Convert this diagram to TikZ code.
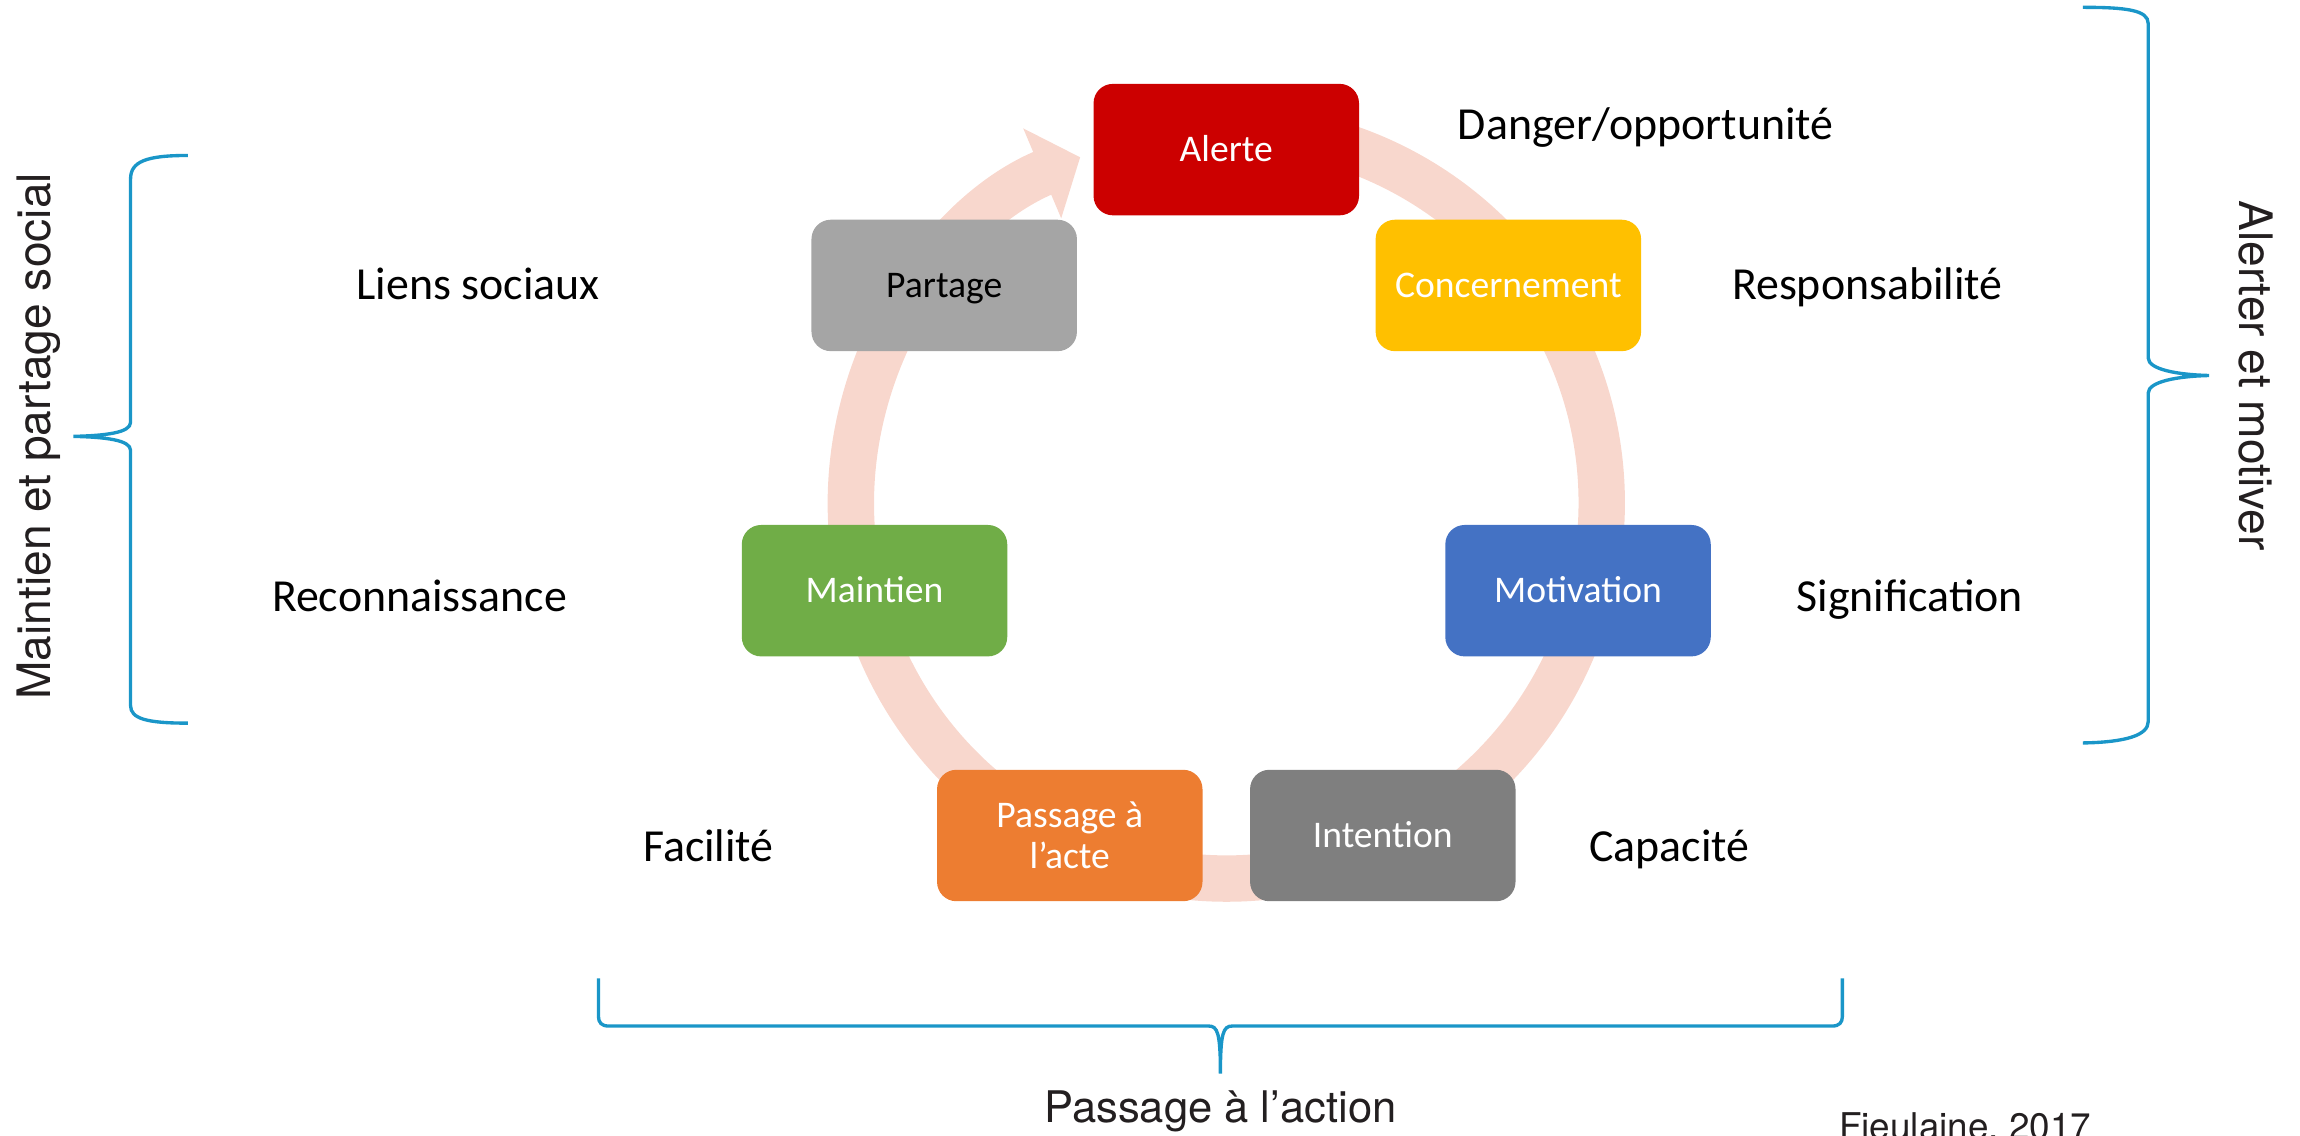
\documentclass[tikz,border=0pt]{standalone}
\usepackage{fontspec}
\setmainfont{Carlito}
\newfontfamily\helv{TeX Gyre Heros}
\usetikzlibrary{arrows.meta}

\definecolor{alerte}{RGB}{204,0,0}
\definecolor{concern}{RGB}{255,192,0}
\definecolor{motiv}{RGB}{68,114,196}
\definecolor{intent}{RGB}{127,127,127}
\definecolor{acte}{RGB}{237,125,49}
\definecolor{maint}{RGB}{112,173,71}
\definecolor{partage}{RGB}{165,165,165}
\definecolor{anneau}{RGB}{248,215,205}
\definecolor{bleu}{RGB}{26,150,200}
\definecolor{encre}{RGB}{35,31,32}

\begin{document}
\begin{tikzpicture}[x=0.02cm, y=0.02cm,
  etape/.style={rectangle, rounded corners=7.5pt, minimum width=103pt, minimum height=51pt,
    inner sep=0pt, text=white, align=center, font=\fontsize{14.6}{16}\selectfont},
  ligne/.style={text height=9.4pt, text depth=0pt},
  mot/.style={anchor=base, font=\fontsize{17.8}{21}\selectfont},
  titre/.style={text=encre, font=\helv\fontsize{17.9}{21}\selectfont},
  accolade/.style={draw=bleu, line width=1.3pt}]

  \useasboundingbox (0,0) rectangle (1568,774);

  % cycle
  \draw[draw=anneau, line width=18pt, -{Triangle[width=37pt,length=16pt]}]
    (836,431) ++(85:5.12cm) arc[start angle=85, end angle=-247.1, radius=5.12cm];

  \node[etape, ligne, fill=alerte] (alerte) at (836,672) {Alerte};
  \node[etape, ligne, fill=concern] (concernement) at (1028.3,579.4) {Concernement};
  \node[etape, ligne, fill=motiv] (motivation) at (1075.8,371.3) {Motivation};
  \node[etape, ligne, fill=intent] (intention) at (942.7,204.4) {Intention};
  \node[etape, fill=acte] (acte) at (729.3,204.4) {Passage à\\l’acte};
  \node[etape, ligne, fill=maint] (maintien) at (596.2,371.3) {Maintien};
  \node[etape, ligne, fill=partage, text=black] (partage) at (643.7,579.4) {Partage};

  % leviers
  \node[mot] (danger) at (1122,679) {Danger/opportunité};
  \node[mot] (respons) at (1273,570) {Responsabilité};
  \node[mot] (signif) at (1302,357) {Signification};
  \node[mot] (capacite) at (1138,187) {Capacité};
  \node[mot] (facilite) at (483,187) {Facilité};
  \node[mot] (reconn) at (286,357) {Reconnaissance};
  \node[mot] (liens) at (326,570) {Liens sociaux};

  % accolades
  \draw[accolade] (128,668) .. controls (100,668) and (89,664) .. (89,652) -- (89,486)
    .. controls (89,479) and (72,477) .. (50,476.5) .. controls (72,476) and (89,474) .. (89,467)
    -- (89,293) .. controls (89,284) and (100,281) .. (128,281);
  \draw[accolade] (1420,769) .. controls (1450,769) and (1464.5,767) .. (1464.5,758) -- (1464.5,530)
    .. controls (1464.5,522) and (1485,518.5) .. (1506,518) .. controls (1485,517.5) and (1464.5,514) .. (1464.5,506)
    -- (1464.5,282) .. controls (1464.5,273) and (1450,268) .. (1420,267.5);
  \draw[accolade] (408,107) -- (408,81) .. controls (408,77) and (410,74.5) .. (415,74.5) -- (824,74.5)
    .. controls (830,74.5) and (832,70) .. (832,42) .. controls (832,70) and (834,74.5) .. (840,74.5)
    -- (1249,74.5) .. controls (1254,74.5) and (1256,77) .. (1256,81) -- (1256,107);

  \node[titre, rotate=90, anchor=base] (social) at (34.6,476.5) {Maintien et partage social};
  \node[titre, rotate=-90, anchor=base] (motiver) at (1527,518) {Alerter et motiver};
  \node[titre, anchor=base, font=\helv\fontsize{16.9}{20}\selectfont] (action) at (832,9) {Passage à l’action};
  \node[titre, anchor=base west, font=\helv\fontsize{14.3}{17}\selectfont] (source) at (1247.6,-3) {Fieulaine, 2017};

\end{tikzpicture}
\end{document}
